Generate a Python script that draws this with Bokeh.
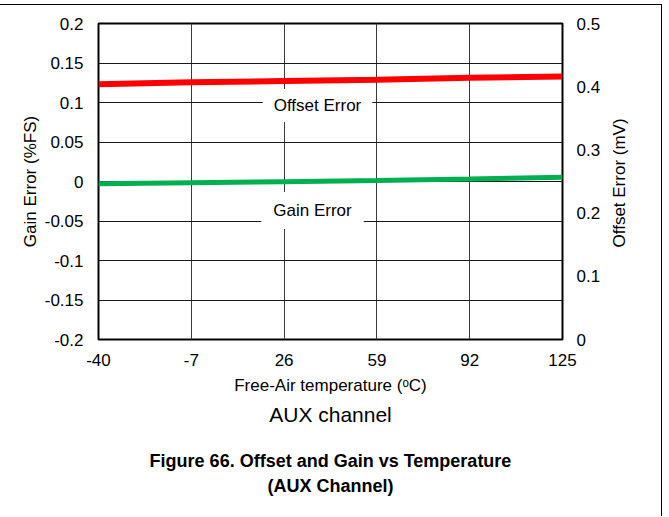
import math
from bokeh.plotting import figure
from bokeh.models import (Range1d, LinearAxis, FixedTicker, Label, Title)
from bokeh.embed import file_html
from bokeh.resources import INLINE

# ---- data ----
temps = [-40, -7, 26, 59, 92, 125]
gain_error = [-0.003, -0.0017, -0.0003, 0.0012, 0.0032, 0.0053]      # %FS, left axis
offset_error = [0.404, 0.407, 0.409, 0.411, 0.414, 0.416]           # mV, right axis
x_ticks = [-40, -7, 26, 59, 92, 125]
x_tick_labels = ["-40", "-7", "26", "59", "92", "125"]
left_ticks = [-0.2, -0.15, -0.1, -0.05, 0, 0.05, 0.1, 0.15, 0.2]
left_tick_labels = ["-0.2", "-0.15", "-0.1", "-0.05", "0", "0.05", "0.1", "0.15", "0.2"]
right_ticks = [0, 0.1, 0.2, 0.3, 0.4, 0.5]
right_tick_labels = ["0", "0.1", "0.2", "0.3", "0.4", "0.5"]

FONT = "Liberation Sans"

TOP = 5                      # canvas starts 5px below window top (margin + border)
W, H = 662, 512
FL, FR, FT, FB = 98, 562, 23 - TOP, 339 - TOP   # frame edges in canvas px
X0, X1, Y0, Y1 = -40, 125, -0.2, 0.2
R0, R1 = 0, 0.5

def dx(sx):
    return X0 + (sx - FL) * (X1 - X0) / (FR - FL)

def dy(ref_y):
    sy = ref_y - TOP
    return Y1 - (sy - FT) * (Y1 - Y0) / (FB - FT)

def dr(ref_y):
    sy = ref_y - TOP
    return R1 - (sy - FT) * (R1 - R0) / (FB - FT)

p = figure(width=W, height=H, output_backend="svg", toolbar_location=None,
           x_range=Range1d(X0, X1), y_range=Range1d(Y0, Y1),
           min_border_left=FL, min_border_right=W - FR,
           min_border_top=FT, min_border_bottom=H - FB)
p.extra_y_ranges = {"offset": Range1d(R0, R1)}
p.background_fill_color = "white"
p.border_fill_color = "white"
p.outline_line_color = "black"
p.outline_line_width = 2
p.outline_line_alpha = 1
p.styles = {"margin-top": "4px", "border-top": "1px solid black",
            "border-right": "1px solid black"}

# axes
p.xaxis.ticker = FixedTicker(ticks=x_ticks)
p.xaxis.major_label_overrides = {t: l for t, l in zip(x_ticks, x_tick_labels)}
p.yaxis.ticker = FixedTicker(ticks=left_ticks)
p.yaxis.major_label_overrides = {t: l for t, l in zip(left_ticks, left_tick_labels)}
p.xaxis.axis_label = "Free-Air temperature (ᵒC)"
p.yaxis.axis_label = "Gain Error (%FS)"

ra = LinearAxis(y_range_name="offset", ticker=FixedTicker(ticks=right_ticks))
ra.major_label_overrides = {t: l for t, l in zip(right_ticks, right_tick_labels)}
p.add_layout(ra, "right")

# right-side title, drawn as the single rotated label of a second right axis
label_pos = round(dr(247), 4)
rl = LinearAxis(y_range_name="offset", ticker=FixedTicker(ticks=[label_pos]))
rl.major_label_overrides = {label_pos: "Offset Error (mV)"}
rl.major_label_orientation = math.pi / 2
p.add_layout(rl, "right")

for ax in [p.xaxis[0], p.yaxis[0], ra, rl]:
    ax.axis_line_color = None
    ax.major_tick_line_color = None
    ax.minor_tick_line_color = None
    ax.major_tick_out = 0
    ax.major_tick_in = 0
    ax.major_label_text_font = FONT
    ax.major_label_text_font_size = "17px"
    ax.major_label_text_color = "black"
    ax.axis_label_text_font = FONT
    ax.axis_label_text_font_size = "17px"
    ax.axis_label_text_font_style = "normal"
    ax.axis_label_text_color = "black"

p.yaxis.major_label_standoff = 15
p.yaxis.axis_label_standoff = 2
ra.major_label_standoff = 14
rl.major_label_standoff = 16
p.xaxis.major_label_standoff = 14
p.xaxis.axis_label_standoff = 7

# grid
p.xgrid.ticker = FixedTicker(ticks=x_ticks)
p.xgrid.grid_line_color = "#3a3a3a"
p.xgrid.grid_line_width = 1
p.ygrid.grid_line_color = "#1a1a1a"
p.ygrid.grid_line_width = 1

# series
p.line(temps, offset_error, y_range_name="offset", line_color="#FF0000", line_width=6)
p.line(temps, gain_error, line_color="#00B050", line_width=5)

# in-plot labels with white boxes
p.add_layout(Label(x=dx(317), y=dy(105), text="Offset Error", text_align="center",
                   text_baseline="middle", text_font=FONT, text_font_size="17px",
                   text_color="black",
                   background_fill_color="white", padding=(11, 7)))
p.add_layout(Label(x=dx(312), y=dy(210), text="Gain Error", text_align="center",
                   text_baseline="middle", text_font=FONT, text_font_size="17px",
                   text_color="black",
                   background_fill_color="white", padding=(12, 9)))

# captions below the chart
p.add_layout(Title(text="AUX channel", align="center", text_font=FONT,
                   text_font_size="21px", text_font_style="normal",
                   text_color="black", standoff=6), "below")
p.add_layout(Title(text="Figure 66. Offset and Gain vs Temperature\n(AUX Channel)",
                   align="center", text_align="center", text_font=FONT,
                   text_font_size="18px", text_font_style="bold",
                   text_line_height=1.29, text_color="black", standoff=40), "below")

open("out.html", "w").write(file_html(p, INLINE))
